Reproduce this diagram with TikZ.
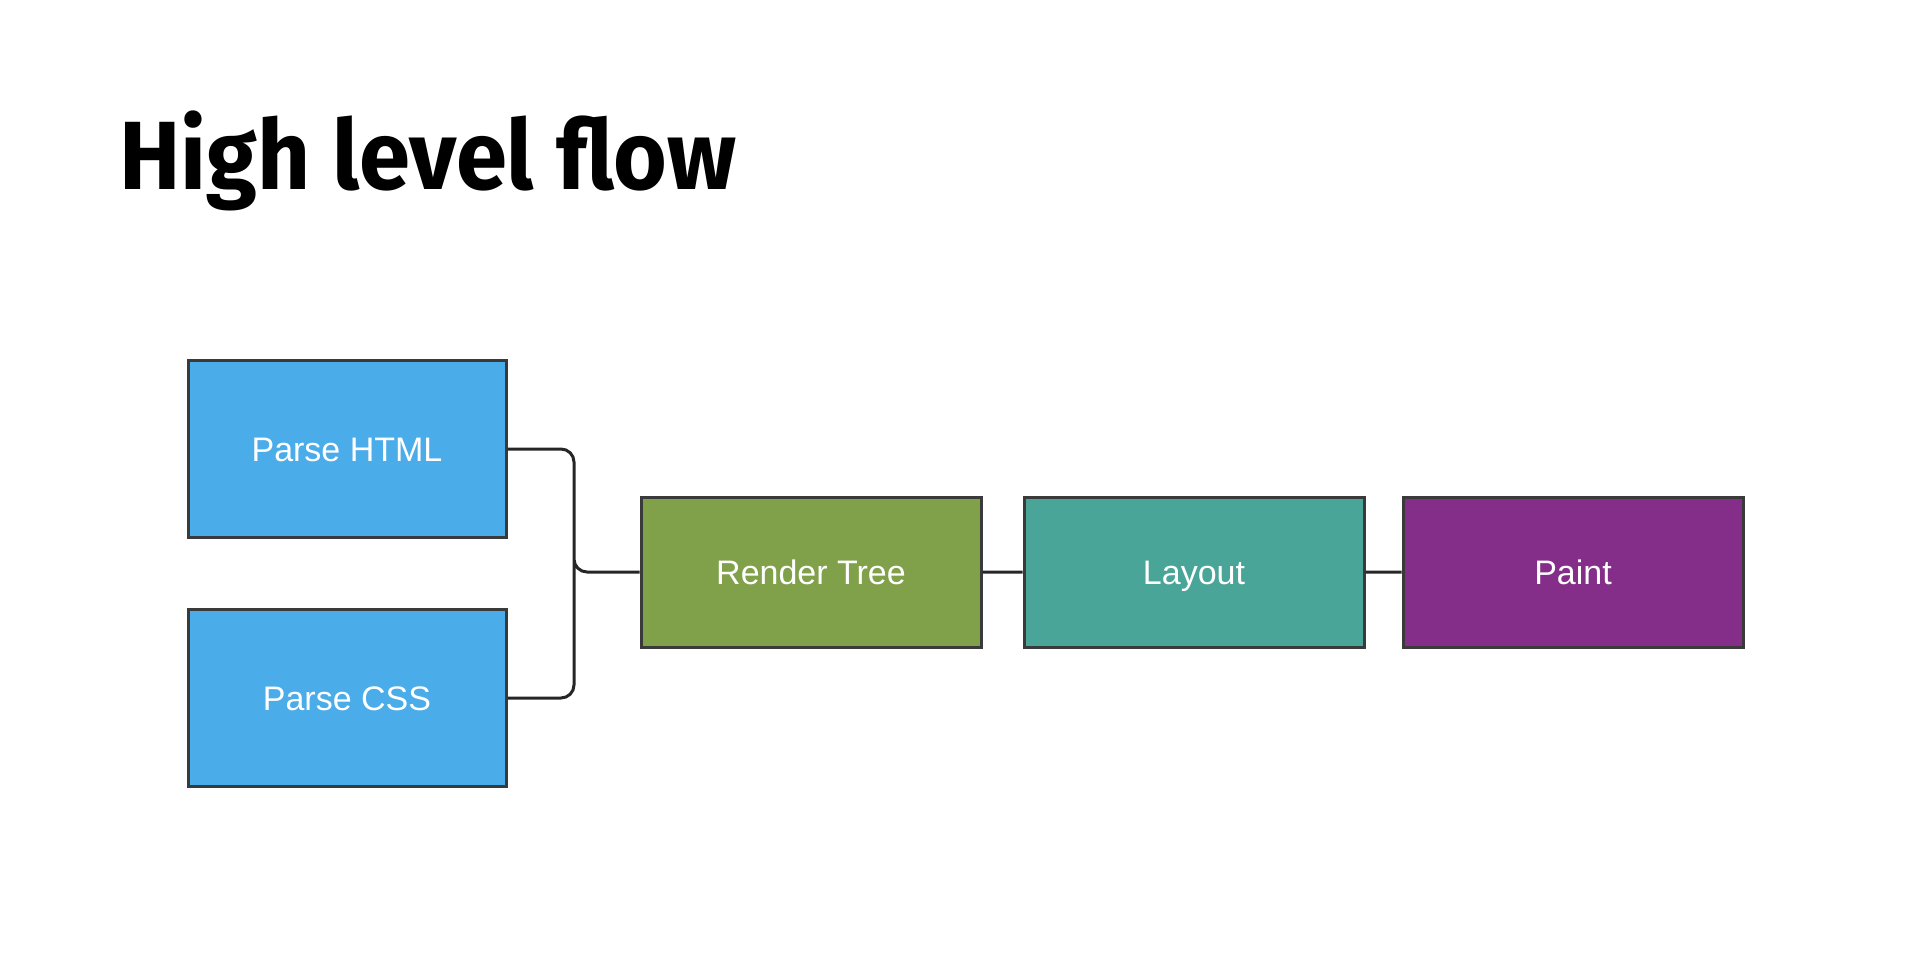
\documentclass[tikz,border=0pt]{standalone}
\usepackage{fontspec}
\setmainfont{Liberation Sans}
\newfontfamily\titlefont{Fira Sans}
\usetikzlibrary{positioning}

\definecolor{parseblue}{RGB}{75,172,234}
\definecolor{treegreen}{RGB}{128,160,74}
\definecolor{layoutteal}{RGB}{72,165,151}
\definecolor{paintpurple}{RGB}{132,46,137}
\definecolor{edgegray}{RGB}{58,58,58}

\begin{document}
\begin{tikzpicture}[x=1pt, y=1pt, semithick, node distance = 41pt]
\tikzstyle{stage}=[draw=edgegray, line width=3pt, rectangle, text=white, minimum width=340pt, minimum height=150pt, text height=24.5pt, text depth=0pt, font=\fontsize{34}{40}\selectfont]
\tikzstyle{parse}=[stage, fill=parseblue, minimum width=318pt, minimum height=177pt]
\tikzstyle{link}=[draw=black!85, line width=3pt, rounded corners=13pt]

\useasboundingbox[fill=white] (0,0) rectangle (1920,-964);

\node[anchor=base west, inner sep=0pt, font=\titlefont\bfseries\fontsize{97}{110}\selectfont]   (T) at (119,-189)   {\scalebox{0.95}[1]{High level flow}};

\node[stage, fill=treegreen]    		(Tree) at (811,-572)   {Render Tree};
\node[stage, fill=layoutteal]   		(Layout)[right=40pt of Tree]   {Layout};
\node[stage, fill=paintpurple]  		(Paint)[right=36pt of Layout]   {Paint};
\node[parse]    		(HTML) at (347,-449)   {Parse HTML};
\node[parse]    		(CSS)[below=69pt of HTML]   {Parse CSS};
\coordinate    		(J) at (574,-572);

\path[link]
(HTML.east) -| (J) |- (Tree.west)
(CSS.east) -| (J) |- (Tree.west)
(Tree.east) -- (Layout.west)
(Layout.east) -- (Paint.west);

\end{tikzpicture}
\end{document}
